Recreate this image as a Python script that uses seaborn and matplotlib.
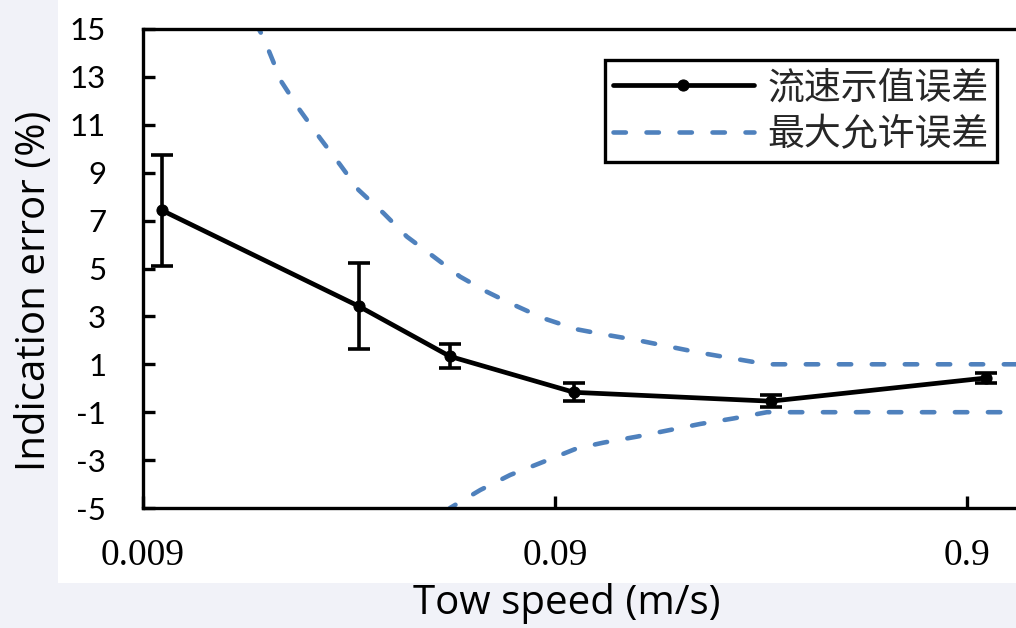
import matplotlib
matplotlib.use("Agg")
import matplotlib.pyplot as plt
from matplotlib.patches import Rectangle
from matplotlib.ticker import NullLocator
import seaborn as sns
import pandas as pd

# ---- data ----
speed = [0.01, 0.03, 0.05, 0.1, 0.3, 1.0]
indication_error = [7.43, 3.43, 1.33, -0.17, -0.54, 0.43]
error_bar = [2.31, 1.81, 0.50, 0.38, 0.26, 0.20]

mpe_upper_speed = [0.0168, 0.0176, 0.0195, 0.0216, 0.0242, 0.0271, 0.0300, 0.0345,
                   0.0393, 0.0456, 0.0529, 0.0614, 0.0700, 0.0843, 0.1016, 0.1179,
                   0.1421, 0.1712, 0.2024, 0.2438, 0.2938, 1.2]
mpe_upper = [15.3, 14.68, 12.80, 11.62, 10.44, 9.32, 8.28, 7.31,
             6.33, 5.50, 4.66, 4.03, 3.55, 2.92, 2.46, 2.25,
             2.01, 1.73, 1.48, 1.24, 1.00, 1.00]

mpe_lower_speed = [0.0490, 0.0500, 0.0592, 0.0700, 0.0843, 0.1016, 0.1179,
                   0.1421, 0.1712, 0.2024, 0.2438, 0.2938, 1.2]
mpe_lower = [-5.2, -5.0, -4.25, -3.62, -3.07, -2.51, -2.27,
             -2.02, -1.74, -1.49, -1.26, -1.00, -1.00]

x_ticks = [0.009, 0.09, 0.9]
x_tick_labels = ["0.009", "0.09", "0.9"]
y_ticks = [-5, -3, -1, 1, 3, 5, 7, 9, 11, 13, 15]
y_tick_labels = ["-5", "-3", "-1", "1", "3", "5", "7", "9", "11", "13", "15"]

series_label = "流速示值误差"
mpe_label = "最大允许误差"
x_label = "Tow speed (m/s)"
y_label = "Indication error (%)"

# ---- style ----
sns.set_theme(style="white")
plt.rcParams["font.family"] = ["Lato", "Noto Sans CJK SC", "DejaVu Sans"]
plt.rcParams["axes.unicode_minus"] = False

BLUE = "#4F81BD"
SPINE_W = 2.4
fig = plt.figure(figsize=(10.16, 6.28), dpi=100)
fig.patch.set_facecolor("#F1F2F8")
fig.add_artist(Rectangle((58 / 1016, 45 / 628), 1 - 58 / 1016, 1 - 45 / 628,
                         transform=fig.transFigure, facecolor="white",
                         edgecolor="none", zorder=-10))

ax = fig.add_axes([143 / 1016, 120 / 628, 897 / 1016, 479 / 628])
ax.set_facecolor("white")

df = pd.DataFrame({"speed": speed, "err": indication_error})
df_up = pd.DataFrame({"speed": mpe_upper_speed, "mpe": mpe_upper})
df_lo = pd.DataFrame({"speed": mpe_lower_speed, "mpe": mpe_lower})

sns.lineplot(data=df_up, x="speed", y="mpe", ax=ax, color=BLUE, linewidth=3.3,
             sort=False, label=mpe_label)
sns.lineplot(data=df_lo, x="speed", y="mpe", ax=ax, color=BLUE, linewidth=3.3,
             sort=False, label="_nolegend_")
for ln in ax.lines:
    ln.set_linewidth(3.3)
    ln.set_dashes((2.7, 4.5))
    ln.set_dash_capstyle("round")

ax.errorbar(speed, indication_error, yerr=error_bar, fmt="none", ecolor="black",
            elinewidth=2.6, capsize=7.8, capthick=2.6, zorder=3)
sns.lineplot(data=df, x="speed", y="err", ax=ax, color="black", linewidth=3.4,
             marker="o", markersize=8, markeredgecolor="black",
             label=series_label, zorder=4)

ax.set_xscale("log")
ax.set_xlim(0.009, 1.35)
ax.set_ylim(-5, 15)
ax.set_xticks(x_ticks, x_tick_labels, fontfamily="Liberation Serif", fontsize=27)
ax.xaxis.set_minor_locator(NullLocator())
ax.set_yticks(y_ticks, y_tick_labels, fontsize=22.5)

ax.tick_params(axis="y", direction="in", length=8.9, width=SPINE_W, pad=26.5,
               left=True, right=False, colors="black")
ax.tick_params(axis="x", direction="in", length=8.4, width=SPINE_W, pad=22,
               bottom=True, top=False, colors="black")

for side in ["left", "bottom", "top"]:
    ax.spines[side].set_visible(True)
    ax.spines[side].set_color("black")
    ax.spines[side].set_linewidth(SPINE_W)
ax.spines["right"].set_visible(False)

ax.set_xlabel(x_label, fontsize=29, color="black", va="center", fontfamily="Open Sans")
ax.set_ylabel(y_label, fontsize=29, color="black", va="center", fontfamily="Open Sans")
ax.xaxis.set_label_coords((566.5 - 143) / 897, (508 - 604) / 479)
ax.yaxis.set_label_coords((35 - 143) / 897, (508 - 291) / 479)

handles, labels = ax.get_legend_handles_labels()
order = [labels.index(series_label), labels.index(mpe_label)]
leg = ax.legend([handles[i] for i in order], [labels[i] for i in order],
                loc="upper right", bbox_to_anchor=(997 / 1016, 1 - 60 / 628),
                bbox_transform=fig.transFigure,
                prop={"family": ["Noto Sans CJK SC"], "size": 26.6},
                frameon=True, fancybox=False, framealpha=1, edgecolor="black",
                borderpad=0.22, handlelength=3.8, handletextpad=0.38,
                labelspacing=0.22, borderaxespad=0)
leg.get_frame().set_linewidth(SPINE_W)

fig.savefig("out.png", dpi=100, facecolor=fig.get_facecolor())
